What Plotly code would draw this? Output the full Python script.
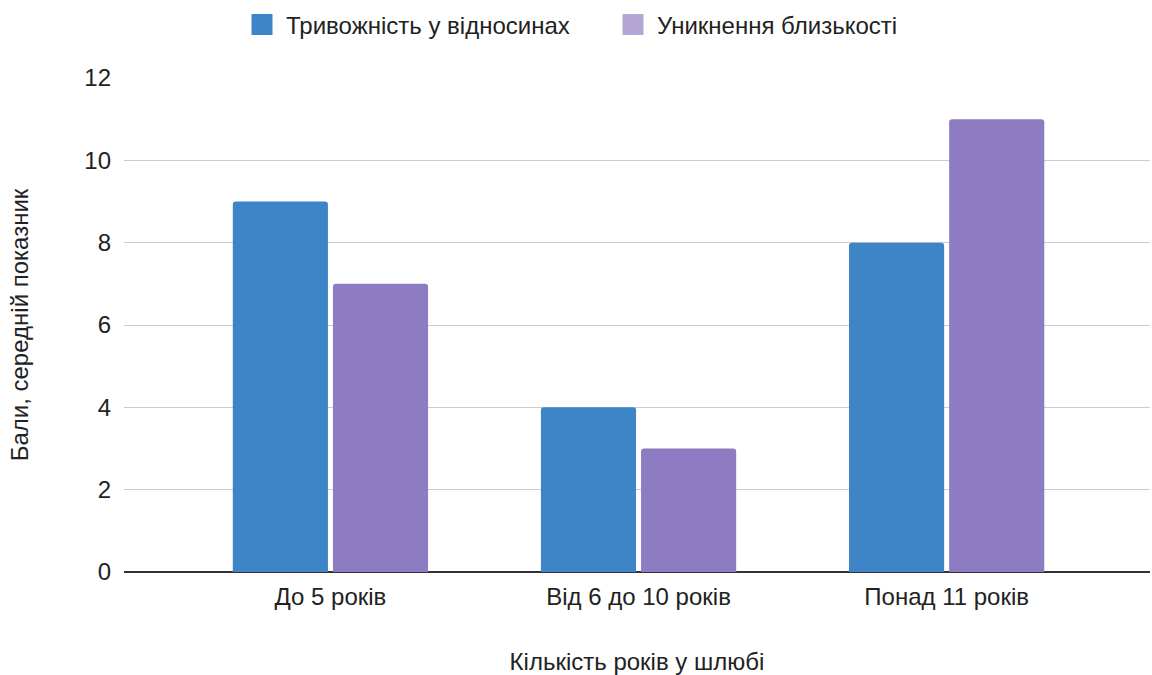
import plotly.graph_objects as go

categories = ["До 5 років", "Від 6 до 10 років", "Понад 11 років"]
anxiety = [9, 4, 8]
avoidance = [7, 3, 11]
series_names = ["Тривожність у відносинах", "Уникнення близькості"]
y_ticks = [0, 2, 4, 6, 8, 10, 12]

bar_colors = ["#3d85c6", "#8e7cc3"]
legend_colors = ["#3d85c6", "#b4a7d6"]
FONT = "Liberation Sans, Arial, sans-serif"
FS = 24

fig = go.Figure()
for name, vals, col in zip(series_names, [anxiety, avoidance], bar_colors):
    fig.add_trace(go.Bar(x=categories, y=vals, name=name, marker_color=col,
                         marker_line_width=0, showlegend=False))

# legend swatches
for name, col in zip(series_names, legend_colors):
    fig.add_trace(go.Scatter(x=[None], y=[None], mode="markers", name=name,
                             marker=dict(symbol="square", size=16, color=col,
                                         line=dict(width=5, color=col))))

fig.update_layout(
    width=1152, height=675,
    paper_bgcolor="white", plot_bgcolor="white",
    margin=dict(l=124, r=2, t=78, b=103),
    barmode="group", bargap=0.35, bargroupgap=0.05, barcornerradius=3,
    font=dict(family=FONT, size=FS, color="#222222"),
    legend=dict(orientation="h", x=238 / 1152, xanchor="left", y=0.963,
                yanchor="middle", yref="container", xref="container",
                font=dict(size=FS, color="#222222"), itemwidth=38,
                entrywidth=318, entrywidthmode="pixels",
                tracegroupgap=0),
    xaxis=dict(range=[-0.67, 2.66], showgrid=False, ticks="",
               showline=False, zeroline=False, ticklabelstandoff=8,
               title=dict(text="Кількість років у шлюбі", standoff=46,
                          font=dict(size=FS)),
               tickfont=dict(size=FS)),
    yaxis=dict(range=[0, 12], tickvals=y_ticks, showgrid=True,
               gridcolor="#cccccc", gridwidth=1, zeroline=True,
               zerolinecolor="#333333", zerolinewidth=2, ticks="",
               ticklabelstandoff=12,
               title=dict(text="Бали, середній показник", standoff=48,
                          font=dict(size=FS)),
               tickfont=dict(size=FS)),
)

fig.write_html("out.html")
